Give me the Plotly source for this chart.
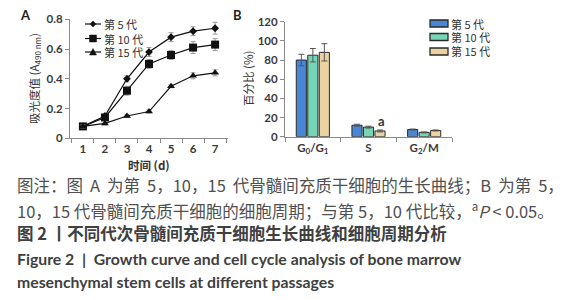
import plotly.graph_objects as go

# Page body has an 8px margin: lay the figure out in page pixels and compensate.
OX, OY = 8, 8
FW, FH = 564 - OX, 300 - OY


def PX(x):
    return (x - OX) / FW


def PY(y):
    return 1 - (y - OY) / FH


# ---- Panel A data: growth curve ----
days = ["1", "2", "3", "4", "5", "6", "7"]
p5 = [0.08, 0.15, 0.40, 0.58, 0.68, 0.72, 0.74]
p5_err = [0.01, 0.01, 0.02, 0.03, 0.03, 0.03, 0.04]
p10 = [0.08, 0.14, 0.32, 0.50, 0.56, 0.61, 0.63]
p10_err = [0.01, 0.02, 0.03, 0.03, 0.03, 0.04, 0.04]
p15 = [0.08, 0.10, 0.15, 0.18, 0.35, 0.42, 0.44]
p15_err = [0.01, 0.01, 0.01, 0.01, 0.01, 0.02, 0.02]
series_names = ["第 5 代", "第 10 代", "第 15 代"]

# ---- Panel B data: cell cycle ----
phases = ["G<sub>0</sub>/G<sub>1</sub>", "S", "G<sub>2</sub>/M"]
b5 = [80, 12, 7.5]
b5_err = [6, 1, 0.5]
b10 = [85, 10, 4.5]
b10_err = [7, 1, 0.5]
b15 = [88, 6, 6.5]
b15_err = [9, 1, 0.5]
bar_colors = ["#4a86d6", "#74d6b6", "#ead3a0"]

FONT_CJK = "Noto Sans CJK SC"
TICK_FONT = dict(family="Lato, " + FONT_CJK, size=11.5, color="#3a3a3a", weight="bold")

fig = go.Figure()

markers = ["diamond", "square", "triangle-up"]
msizes = [6, 8, 7]
for name, ys, errs, sym, ms in zip(series_names, [p5, p10, p15], [p5_err, p10_err, p15_err], markers, msizes):
    fig.add_trace(go.Scatter(
        x=days, y=ys, name=name, mode="lines+markers",
        line=dict(color="#111111", width=1.2),
        marker=dict(symbol=sym, size=ms, color="#111111"),
        error_y=dict(type="data", array=errs, color="#9a9a9a", thickness=1, width=2.5),
        xaxis="x", yaxis="y", cliponaxis=False, showlegend=False,
    ))

for name, ys, errs, col in zip(series_names, [b5, b10, b15], [b5_err, b10_err, b15_err], bar_colors):
    fig.add_trace(go.Bar(
        x=phases, y=ys, name=name,
        marker=dict(color=col, line=dict(color="#2a2a2a", width=1)),
        error_y=dict(type="data", array=errs, color="#555555", thickness=1, width=3),
        xaxis="x2", yaxis="y2", showlegend=False,
    ))

axis_common = dict(showline=True, linecolor="#8a8a8a", linewidth=1, ticks="outside",
                   ticklen=4, tickcolor="#8a8a8a", showgrid=False, zeroline=False,
                   tickfont=TICK_FONT, automargin=False)

fig.update_layout(
    width=FW, height=FH, margin=dict(l=0, r=0, t=0, b=0, autoexpand=False),
    paper_bgcolor="white", plot_bgcolor="white",
    showlegend=False,
    barmode="group", bargap=0.38, bargroupgap=0.12,
    xaxis=dict(domain=[PX(70), PX(228)], type="category", tickson="boundaries",
               anchor="y", **axis_common),
    yaxis=dict(domain=[PY(138.3), PY(19.3)], range=[0, 0.8],
               tickvals=[0, 0.2, 0.4, 0.6, 0.8], ticktext=["0", "0.2", "0.4", "0.6", "0.8"],
               anchor="x", **axis_common),
    xaxis2=dict(domain=[PX(285), PX(452)], type="category", tickson="boundaries",
                anchor="y2", **axis_common),
    yaxis2=dict(domain=[PY(136.7), PY(21.7)], range=[0, 120], dtick=20,
                anchor="x2", **axis_common),
)

annotations = []
shapes = []


def ann(text, x, y, size=12, color="#333333", family=FONT_CJK, weight="normal",
        xanchor="center", yanchor="middle", angle=0, pad=1):
    annotations.append(dict(text=text, x=PX(x), y=PY(y), xref="paper", yref="paper",
                            xanchor=xanchor, yanchor=yanchor, showarrow=False, textangle=angle,
                            borderpad=pad,
                            font=dict(family=family, size=size, color=color, weight=weight)))


# panel letters
ann("A", 25, 15, size=13, color="#222", family="Lato", weight="bold")
ann("B", 237, 15, size=13, color="#222", family="Lato", weight="bold")

# axis titles
ann("时间 (d)", 149, 165, size=11.5, color="#333", weight="bold")
ann("吸光度值 (A<sub>490 nm</sub>)", 35, 79, size=11.5, color="#333", angle=-90)
ann("百分比 (%)", 248, 79, size=11.5, color="#333", angle=-90)

# legend A (drawn by hand for compact spacing)
leg_a_y = [24, 38.5, 52]
for name, yy, sym in zip(series_names, leg_a_y, markers):
    shapes.append(dict(type="line", xref="paper", yref="paper", x0=PX(85), x1=PX(101),
                       y0=PY(yy), y1=PY(yy), line=dict(color="#111", width=1.2)))
    cx = 93
    if sym == "diamond":
        path = f"M {PX(cx-3)} {PY(yy)} L {PX(cx)} {PY(yy-3)} L {PX(cx+3)} {PY(yy)} L {PX(cx)} {PY(yy+3)} Z"
    elif sym == "square":
        path = f"M {PX(cx-3.5)} {PY(yy-3.5)} L {PX(cx+3.5)} {PY(yy-3.5)} L {PX(cx+3.5)} {PY(yy+3.5)} L {PX(cx-3.5)} {PY(yy+3.5)} Z"
    else:
        path = f"M {PX(cx-3.5)} {PY(yy+3)} L {PX(cx)} {PY(yy-3.5)} L {PX(cx+3.5)} {PY(yy+3)} Z"
    shapes.append(dict(type="path", xref="paper", yref="paper", path=path,
                       fillcolor="#111", line=dict(color="#111", width=0.5)))
    ann(name, 103, yy, size=11, xanchor="left", pad=0)

# legend B
leg_b_y = [23.5, 37, 51.5]
for name, yy, col in zip(series_names, leg_b_y, bar_colors):
    shapes.append(dict(type="rect", xref="paper", yref="paper", x0=PX(430), x1=PX(448),
                       y0=PY(yy + 3.5), y1=PY(yy - 3.5), fillcolor=col,
                       line=dict(color="#2a2a2a", width=1.3)))
    ann(name, 450, yy, size=11, xanchor="left", pad=0)

# significance mark on S-phase 15th-passage bar
annotations.append(dict(text="a", x=phases[1], y=b15[1] + b15_err[1], xref="x2", yref="y2",
                        xshift=13, yshift=9, showarrow=False,
                        font=dict(family="Lato", size=13, color="#333", weight="bold")))

S = " \u2009"
caption_lines = [
    (f"图注：图{S}A{S}为第{S}5，10，15{S}代骨髓间充质干细胞的生长曲线；B{S}为第{S}5，", 185, "#505050", "normal", FONT_CJK, 16.5),
    ("10，15 代骨髓间充质干细胞的细胞周期；与第 5，10 代比较，<sup>a</sup><i>P</i> < 0.05。", 210, "#505050", "normal", FONT_CJK, 16.5),
    ("图 2 丨不同代次骨髓间充质干细胞生长曲线和细胞周期分析", 233, "#404040", "bold", FONT_CJK, 16.5),
    ("Figure 2  |  Growth curve and cell cycle analysis of bone marrow", 258, "#404040", "bold", "Lato", 15.8),
    ("mesenchymal stem cells at different passages", 281, "#404040", "bold", "Lato", 15.8),
]
for text, yc, col, wt, fam, fs in caption_lines:
    ann(text, 15, yc, size=fs, color=col, family=fam, weight=wt, xanchor="left")

fig.update_layout(annotations=annotations, shapes=shapes)
fig.write_html("out.html")
